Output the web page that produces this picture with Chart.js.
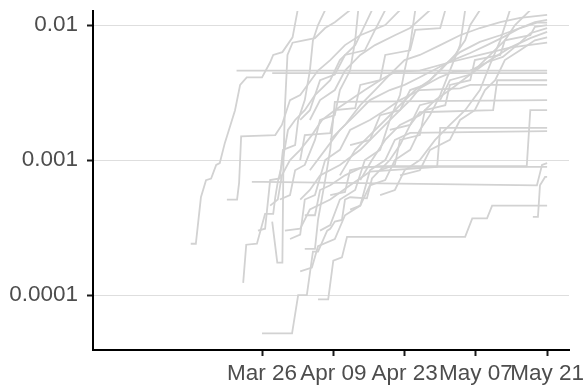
<!DOCTYPE html>
<html>
<head>
<meta charset="utf-8">
<script src="https://cdn.jsdelivr.net/npm/chart.js@4/dist/chart.umd.min.js"></script>
<style>
    html, body { margin: 0; padding: 0; background: #ffffff; }
    #wrap { width: 587px; height: 385px; }
</style>
</head>
<body>
<div id="wrap"><canvas id="chart" width="587" height="385"></canvas></div>
<script>
// Days are counted from Mar 26
const xTickDays = [0, 14, 28, 42, 56];
const xTickLabels = ['Mar 26', 'Apr 09', 'Apr 23', 'May 07', 'May 21'];
const yTickValues = [0.0001, 0.001, 0.01];
const yTickLabels = ['0.0001', '0.001', '0.01'];

const line01 = [[-14, 0.00024], [-13, 0.00024], [-12, 0.00053], [-11, 0.00071], [-10, 0.00073], [-9, 0.00092], [-8.3, 0.00095], [-7.3, 0.00134], [-6.7, 0.00158], [-5.3, 0.00234], [-4.3, 0.0036], [-3, 0.0041], [0, 0.0041], [1.6, 0.0053], [2.2, 0.006], [4, 0.0063], [6, 0.0081], [7, 0.0129]];
const line02 = [[-5, 0.0046], [56, 0.0046]];
const line03 = [[2, 0.0044], [56, 0.0044]];
const line04 = [[2, 0.00035], [3, 0.000174], [4, 0.000174], [4.2, 0.00092], [4.5, 0.00247], [5, 0.006], [6, 0.0074], [7.5, 0.0076], [10.4, 0.008], [12.4, 0.0095], [14.3, 0.0105], [17.3, 0.0129]];
const line05 = [[-3.7, 0.000123], [-3.1, 0.000236], [-1, 0.00024], [0, 0.00033], [0.6, 0.0004], [2.2, 0.0004], [2.6, 0.00053], [3.1, 0.00069], [3.9, 0.00092], [5.1, 0.00167], [6.5, 0.00198], [8.4, 0.00234], [10.4, 0.00303], [13.4, 0.0039], [15.3, 0.0055], [18.3, 0.0071], [20.2, 0.01], [21.6, 0.0129]];
const line06 = [[0, 0.000052], [5.9, 0.000052], [7.1, 0.0001], [8.8, 0.0001], [10, 0.00021], [11, 0.00021], [12.8, 0.0003], [13.4, 0.00031], [14.3, 0.00035], [15.7, 0.00036], [16.3, 0.00051], [17.3, 0.00053], [20.6, 0.00052], [21.6, 0.00073], [22.6, 0.0008], [25.1, 0.001], [27.1, 0.00129], [29.1, 0.00182], [31, 0.00226], [45.4, 0.00234], [46.2, 0.0039], [56, 0.0039]];
const line07 = [[11, 0.000093], [13, 0.000093], [14, 0.00018], [15.7, 0.00019], [16.7, 0.00027], [17.3, 0.00027], [39.9, 0.00027], [41.3, 0.00037], [44.2, 0.00037], [45.2, 0.00046], [56, 0.00046]];
const line08 = [[-2, 0.00069], [0.2, 0.00069], [54, 0.00065], [54.6, 0.0008], [55, 0.00092], [56, 0.00095]];
const line09 = [[-6.9, 0.00051], [-4.9, 0.00051], [-4.5, 0.00068], [-4.1, 0.0015], [2.6, 0.00153], [3.9, 0.00182], [5.5, 0.00278], [7.5, 0.00303], [11, 0.0046], [13.4, 0.0055], [16.3, 0.0071], [19.3, 0.0084], [24.2, 0.01], [27.1, 0.0129]];
const line10 = [[53.2, 0.00038], [54.2, 0.00038], [54.6, 0.00065], [55.6, 0.00075], [56, 0.00075]];
const line11 = [[8.4, 0.00039], [10.4, 0.00039], [11.4, 0.0006], [13.4, 0.00065], [16.3, 0.00077], [19.3, 0.00087], [23.2, 0.0009], [52, 0.0009], [52.7, 0.00234], [56, 0.00234]];
const line12 = [[4.5, 0.0003], [7.5, 0.00031], [9.4, 0.00043], [13.4, 0.00051], [17.3, 0.00065], [21.2, 0.00082], [34.4, 0.00089], [35, 0.00173], [56, 0.00173]];
const line13 = [[7.5, 0.00015], [9.8, 0.00016], [11, 0.00023], [14.3, 0.00026], [16.3, 0.00039], [19.3, 0.00046], [21.2, 0.00084], [24.2, 0.001], [26.1, 0.00141], [29.1, 0.00159], [56, 0.00164]];
const line14 = [[5.5, 0.00026], [7.5, 0.00028], [8.4, 0.00051], [10.4, 0.00055], [12.4, 0.001], [15.3, 0.00119], [17.3, 0.00167], [21.2, 0.00198], [24.2, 0.00234], [27.1, 0.00278], [31, 0.0033], [38.9, 0.0034], [40.9, 0.0036], [56, 0.0036]];
const line15 = [[1.6, 0.00046], [3.1, 0.00051], [3.9, 0.00077], [5.5, 0.001], [7.5, 0.00119], [9.8, 0.00153], [11.8, 0.00198], [14.3, 0.00234], [17.3, 0.00278], [20.2, 0.0033], [23.2, 0.0039], [26.1, 0.0045], [31, 0.0046], [36.9, 0.0053], [42.8, 0.006], [48.7, 0.0068], [56, 0.0074]];
const line16 = [[7.5, 0.00051], [9.4, 0.0006], [11.4, 0.00077], [15.3, 0.00092], [19.3, 0.00119], [23.2, 0.00167], [26.1, 0.00215], [29.1, 0.00278], [31, 0.0034], [34.9, 0.0041], [37.5, 0.0045], [40.9, 0.0046], [44.2, 0.0053], [47.3, 0.0058], [50.7, 0.0074], [52.7, 0.0087], [56, 0.0095]];
const line17 = [[9.4, 0.00084], [12.4, 0.00119], [15.3, 0.00167], [18.3, 0.00215], [21.2, 0.00278], [25.1, 0.0033], [28, 0.0036], [31, 0.0041], [37.5, 0.0055], [40.9, 0.0062], [44.2, 0.0071], [47.3, 0.0081], [50.7, 0.0095], [54, 0.0104], [56, 0.0104]];
const line18 = [[13.4, 0.00141], [16.3, 0.00182], [19.3, 0.00255], [22.2, 0.0033], [25.1, 0.0043], [28, 0.0055], [31, 0.006], [35, 0.0071], [38.9, 0.0084], [42.8, 0.0095], [46.8, 0.0105], [50.7, 0.0113], [56, 0.0119]];
const line19 = [[15.3, 0.00077], [18.3, 0.00119], [21.2, 0.00153], [24.2, 0.00198], [27.1, 0.00255], [30.1, 0.0033], [33, 0.0039], [36, 0.0051], [38.9, 0.0063], [42.8, 0.0075], [46.8, 0.0084], [50.7, 0.0095], [53.6, 0.0105], [56, 0.0109]];
const line20 = [[19.3, 0.00071], [21.6, 0.001], [24.2, 0.00141], [27.1, 0.00182], [31, 0.00215], [34, 0.00278], [36.9, 0.0033], [40.9, 0.0043], [44.8, 0.0055], [48.7, 0.0068], [52.7, 0.008], [56, 0.0089]];
const line21 = [[23.2, 0.00084], [26.1, 0.00092], [27.1, 0.00141], [31, 0.00153], [32, 0.00234], [36, 0.00255], [36.9, 0.0036], [40.9, 0.0039], [41.8, 0.0055], [46.8, 0.006], [47.7, 0.0077], [52.7, 0.0084], [53.6, 0.0097], [56, 0.01]];
const line22 = [[7.5, 0.001], [8.4, 0.00153], [13.4, 0.00158], [14.3, 0.00234], [18.3, 0.00242], [19.3, 0.0036], [23.2, 0.0039], [24.2, 0.006], [29.1, 0.0065], [30.1, 0.0092], [35, 0.0095], [36, 0.0129]];
const line23 = [[9.4, 0.00198], [11.4, 0.00278], [14.3, 0.0033], [16.3, 0.0046], [19.3, 0.006], [22.2, 0.0071], [26.1, 0.0084], [29.1, 0.0095], [33, 0.0129]];
const line24 = [[17.3, 0.00129], [21.2, 0.00141], [23.2, 0.00215], [27.1, 0.00234], [29.1, 0.0033], [32, 0.0036], [35, 0.0046], [37.9, 0.006], [39.9, 0.0077], [40.9, 0.01], [42.8, 0.0129]];
const line25 = [[25.1, 0.00167], [29.1, 0.00182], [31, 0.00255], [35, 0.00278], [36.9, 0.0039], [40.9, 0.0043], [44.8, 0.006], [47.7, 0.0077], [49.7, 0.01], [52.7, 0.0129]];
const line26 = [[-0.8, 0.0003], [0.6, 0.00031], [1.6, 0.00071], [3.5, 0.00073], [4.1, 0.00119], [6.5, 0.00129], [7.1, 0.00198], [8.4, 0.00278], [9.4, 0.0046], [10, 0.0077], [11, 0.01], [12.4, 0.0129]];
const line27 = [[13.4, 0.00055], [16.3, 0.00058], [17.3, 0.00084], [20.2, 0.00089], [56, 0.00089]];
const line28 = [[8.4, 0.00022], [10.4, 0.00022], [11, 0.00036], [12.4, 0.00071], [13.4, 0.00119], [14.3, 0.0027], [56, 0.00278]];
const line29 = [[3.5, 0.00051], [5.5, 0.00055], [6.5, 0.00084], [8.4, 0.00092], [10.4, 0.00141], [11.4, 0.00198], [14.3, 0.00215], [15.3, 0.0033], [17.3, 0.0046], [18.3, 0.0077], [18.9, 0.0129]];
const line30 = [[11.4, 0.0003], [13.4, 0.00033], [15.3, 0.00051], [18.3, 0.0006], [20.2, 0.001], [23.2, 0.00119], [25.1, 0.00198], [27.1, 0.00303], [28, 0.0046], [29.1, 0.0071], [30.1, 0.0129]];
const line31 = [[17.3, 0.00043], [19.3, 0.00046], [21.2, 0.00065], [24.2, 0.00071], [26.1, 0.001], [29.1, 0.00119], [31, 0.00167], [33, 0.00215], [35, 0.00303], [36.9, 0.0046], [38.9, 0.0071], [39.9, 0.0129]];
const line32 = [[23.2, 0.00055], [26.1, 0.0006], [28, 0.00084], [31, 0.001], [34, 0.00141], [36.9, 0.00182], [39.9, 0.00234], [42.8, 0.0033], [44.8, 0.0051], [46.8, 0.0077], [48.7, 0.0129]];
const line33 = [[7.5, 0.00198], [9.4, 0.00234], [11.4, 0.0039], [14.3, 0.0043], [16.3, 0.006], [20.2, 0.0065], [22.2, 0.0092], [24.2, 0.0129]];
const line34 = [[27.1, 0.00077], [31, 0.00084], [33, 0.00119], [36.9, 0.00141], [38.9, 0.00198], [41.8, 0.00234], [43.8, 0.0033], [45.8, 0.0039], [47.7, 0.0055], [50.7, 0.0065], [53.6, 0.0077], [56, 0.0081]];

const allLines = [line01, line02, line03, line04, line05, line06, line07, line08, line09, line10,
    line11, line12, line13, line14, line15, line16, line17, line18, line19, line20,
    line21, line22, line23, line24, line25, line26, line27, line28, line29, line30,
    line31, line32, line33, line34];

const labelFont = { family: '"Liberation Sans", Arial, sans-serif', size: 22.5 };

const datasets = allLines.map(pts => ({
    data: pts.map(p => ({ x: p[0], y: p[1] })),
    borderColor: '#d2d2d2',
    borderWidth: 1.8,
    pointRadius: 0,
    tension: 0,
    fill: false
}));

new Chart(document.getElementById('chart'), {
    type: 'line',
    data: { datasets: datasets },
    options: {
        responsive: false,
        animation: false,
        devicePixelRatio: 1,
        layout: { padding: { left: 0, right: 18, top: 11, bottom: 0 } },
        plugins: {
            legend: { display: false },
            tooltip: { enabled: false }
        },
        scales: {
            x: {
                type: 'linear',
                min: -33.2,
                max: 60.3,
                afterBuildTicks: scale => { scale.ticks = xTickDays.map(v => ({ value: v })); },
                afterFit: scale => {
                    scale.height = 35;
                    scale.paddingLeft = 0;
                    scale.paddingRight = 0;
                },
                ticks: {
                    autoSkip: false,
                    maxRotation: 0,
                    padding: 4,
                    color: '#4d4d4d',
                    font: labelFont,
                    callback: (value, index) => xTickLabels[index]
                },
                grid: {
                    drawOnChartArea: false,
                    drawTicks: true,
                    tickLength: 6,
                    tickWidth: 2,
                    tickColor: '#1a1a1a'
                },
                border: { display: true, color: '#000000', width: 2 }
            },
            y: {
                type: 'logarithmic',
                min: 0.0000392,
                max: 0.0127,
                afterBuildTicks: scale => { scale.ticks = yTickValues.map(v => ({ value: v })); },
                afterFit: scale => {
                    scale.width = 93;
                    scale.paddingTop = 0;
                    scale.paddingBottom = 0;
                },
                ticks: {
                    autoSkip: false,
                    padding: 9,
                    color: '#4d4d4d',
                    font: labelFont,
                    callback: (value, index) => yTickLabels[index]
                },
                grid: {
                    color: '#dedede',
                    lineWidth: 1,
                    drawTicks: true,
                    tickLength: 6,
                    tickWidth: 2,
                    tickColor: '#1a1a1a'
                },
                border: { display: true, color: '#000000', width: 2 }
            }
        }
    }
});
</script>
</body>
</html>
